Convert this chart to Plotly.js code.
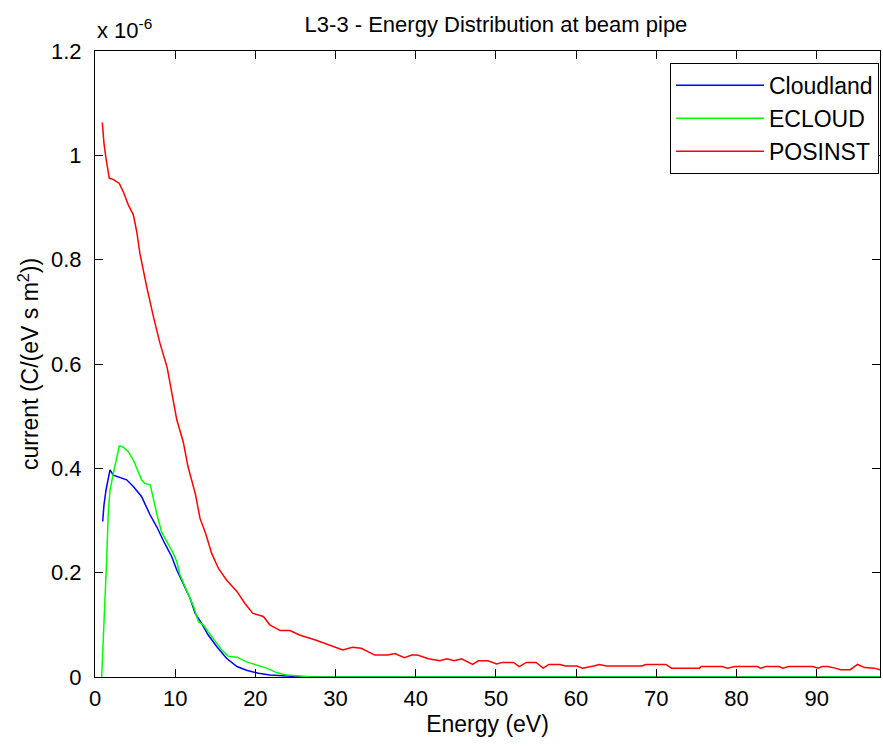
<!DOCTYPE html>
<html>
<head>
<meta charset="utf-8">
<script src="https://cdn.plot.ly/plotly-3.0.1.min.js"></script>
<style>html,body{margin:0;padding:0;background:#fff;}#chart{width:883px;height:746px;}</style>
</head>
<body>
<div id="chart"></div>
<script>
// Values of current are in units of 1e-6 C/(eV s m^2)
const cloudlandE = [0.96, 1.12, 1.37, 1.66, 1.87, 2.28, 3.1, 3.95, 4.78, 5.8, 6.86, 7.7, 8.7, 9.56, 10.2, 11.0, 11.85, 12.5, 13.3, 14.1, 15.2, 16.4, 17.7, 18.9, 20.4, 21.8, 23.5, 24.8, 26, 40, 60, 80, 98];
const cloudlandI = [0.298, 0.330, 0.358, 0.381, 0.397, 0.387, 0.383, 0.378, 0.365, 0.346, 0.311, 0.288, 0.256, 0.231, 0.205, 0.180, 0.151, 0.122, 0.103, 0.081, 0.058, 0.036, 0.020, 0.013, 0.007, 0.004, 0.002, 0.001, 0, 0, 0, 0, 0];

const ecloudE = [0.83, 0.96, 1.25, 1.46, 1.66, 1.87, 2.28, 2.7, 3.03, 3.5, 4.15, 4.78, 5.4, 5.8, 6.2, 6.9, 7.27, 7.7, 8.3, 9.14, 9.76, 10.2, 10.6, 11.4, 12.3, 12.9, 13.5, 14.1, 15.0, 15.8, 16.6, 17.7, 18.9, 20.2, 21.4, 22.7, 23.9, 25.6, 27, 40, 60, 80, 98];
const ecloudI = [0, 0.042, 0.135, 0.227, 0.317, 0.358, 0.390, 0.422, 0.443, 0.441, 0.432, 0.416, 0.394, 0.378, 0.371, 0.368, 0.343, 0.313, 0.278, 0.256, 0.237, 0.221, 0.196, 0.167, 0.135, 0.106, 0.100, 0.087, 0.068, 0.052, 0.040, 0.038, 0.029, 0.023, 0.017, 0.008, 0.004, 0.002, 0, 0, 0, 0, 0];

const posinstE = [0.91, 1.12, 1.37, 1.78, 2.28, 3.03, 3.53, 4.15, 4.78, 5.2, 5.6, 6.02, 6.45, 7.3, 8.1, 9.0, 9.56, 10.2, 11.0, 11.6, 12.5, 13.1, 13.8, 14.55, 15.4, 16.4, 17.7, 18.7, 19.7, 21.0, 21.8, 23.1, 24.3, 25.6, 27.5, 30, 30.9, 32.1, 33.2, 34.9, 36.5, 37.4, 38.6, 39.5, 40.2, 41.6, 43, 43.9, 44.8, 45.7, 47.1, 47.8, 49, 50.1, 50.8, 52.2, 52.9, 53.8, 55, 55.9, 56.6, 58, 58.7, 60.1, 60.8, 62.2, 62.9, 63.8, 65.9, 68.2, 68.7, 71.2, 71.9, 75.4, 75.6, 78.2, 78.9, 79.8, 82.6, 83, 83.7, 85.3, 85.8, 86.5, 89.5, 90.2, 90.7, 91.4, 92.3, 93, 94.2, 95.1, 96, 97.2, 97.9];
const posinstI = [1.063, 1.023, 0.994, 0.956, 0.954, 0.946, 0.930, 0.905, 0.886, 0.854, 0.812, 0.777, 0.748, 0.69, 0.64, 0.593, 0.545, 0.493, 0.451, 0.403, 0.352, 0.304, 0.275, 0.237, 0.208, 0.186, 0.164, 0.141, 0.122, 0.116, 0.100, 0.089, 0.089, 0.080, 0.071, 0.057, 0.052, 0.057, 0.055, 0.042, 0.042, 0.045, 0.037, 0.042, 0.042, 0.035, 0.031, 0.035, 0.031, 0.035, 0.024, 0.031, 0.031, 0.025, 0.028, 0.028, 0.020, 0.028, 0.028, 0.017, 0.024, 0.024, 0.021, 0.021, 0.017, 0.021, 0.024, 0.021, 0.021, 0.021, 0.024, 0.024, 0.017, 0.017, 0.020, 0.020, 0.017, 0.020, 0.020, 0.017, 0.020, 0.020, 0.017, 0.020, 0.020, 0.017, 0.020, 0.020, 0.017, 0.014, 0.014, 0.024, 0.018, 0.017, 0.014];

const xTicks = [0, 10, 20, 30, 40, 50, 60, 70, 80, 90];
const yTicks = [0, 0.2, 0.4, 0.6, 0.8, 1, 1.2];
const yTickText = ['0', '0.2', '0.4', '0.6', '0.8', '1', '1.2'];

const FONT = 'Liberation Sans, Arial, Helvetica, sans-serif';

const traces = [
  {x: cloudlandE, y: cloudlandI, name: 'Cloudland', legendgroup: 'a', mode: 'lines', line: {color: '#0000ff', width: 1.5}},
  {x: ecloudE, y: ecloudI, name: 'ECLOUD', legendgroup: 'b', mode: 'lines', line: {color: '#00ff00', width: 1.5}},
  {x: posinstE, y: posinstI, name: 'POSINST', legendgroup: 'c', mode: 'lines', line: {color: '#ff0000', width: 1.5}}
];

const axisCommon = {
  showline: true, linecolor: '#000', linewidth: 1, mirror: 'allticks',
  ticks: 'inside', ticklen: 8, tickcolor: '#000', tickwidth: 1,
  showgrid: false, zeroline: false,
  tickfont: {family: FONT, size: 22, color: '#000'}
};

const layout = {
  width: 883, height: 746,
  margin: {l: 95, r: 3, t: 51, b: 69},
  paper_bgcolor: '#fff', plot_bgcolor: '#fff',
  font: {family: FONT, color: '#000'},
  title: {text: 'L3-3 - Energy Distribution at beam pipe', font: {family: FONT, size: 22, color: '#000'}, x: 0.5617, xanchor: 'center', y: 0.968, yanchor: 'middle'},
  showlegend: true,
  legend: {
    x: 0.9987, xanchor: 'right', y: 0.981, yanchor: 'top',
    bordercolor: '#000', borderwidth: 1, bgcolor: '#fff',
    font: {family: FONT, size: 23, color: '#000'},
    itemwidth: 88, tracegroupgap: 7, traceorder: 'normal'
  },
  xaxis: Object.assign({}, axisCommon, {
    range: [0, 97.9], tickvals: xTicks, ticktext: xTicks.map(String),
    ticklabelstandoff: 2,
    title: {text: 'Energy (eV)', font: {family: FONT, size: 23, color: '#000'}, standoff: 4}
  }),
  yaxis: Object.assign({}, axisCommon, {
    range: [0, 1.2], tickvals: yTicks, ticktext: yTickText,
    ticklabelstandoff: 8,
    title: {text: 'current (C/(eV s m<sup>2</sup>))', font: {family: FONT, size: 23, color: '#000'}, standoff: 5}
  }),
  annotations: [{
    xref: 'paper', yref: 'paper', x: 0, xshift: 0, y: 1, yshift: 6,
    xanchor: 'left', yanchor: 'bottom', showarrow: false,
    text: 'x 10<sup>-6</sup>', font: {family: FONT, size: 22, color: '#000'}
  }]
};

Plotly.newPlot('chart', traces, layout, {displayModeBar: false, responsive: false});
</script>
</body>
</html>
